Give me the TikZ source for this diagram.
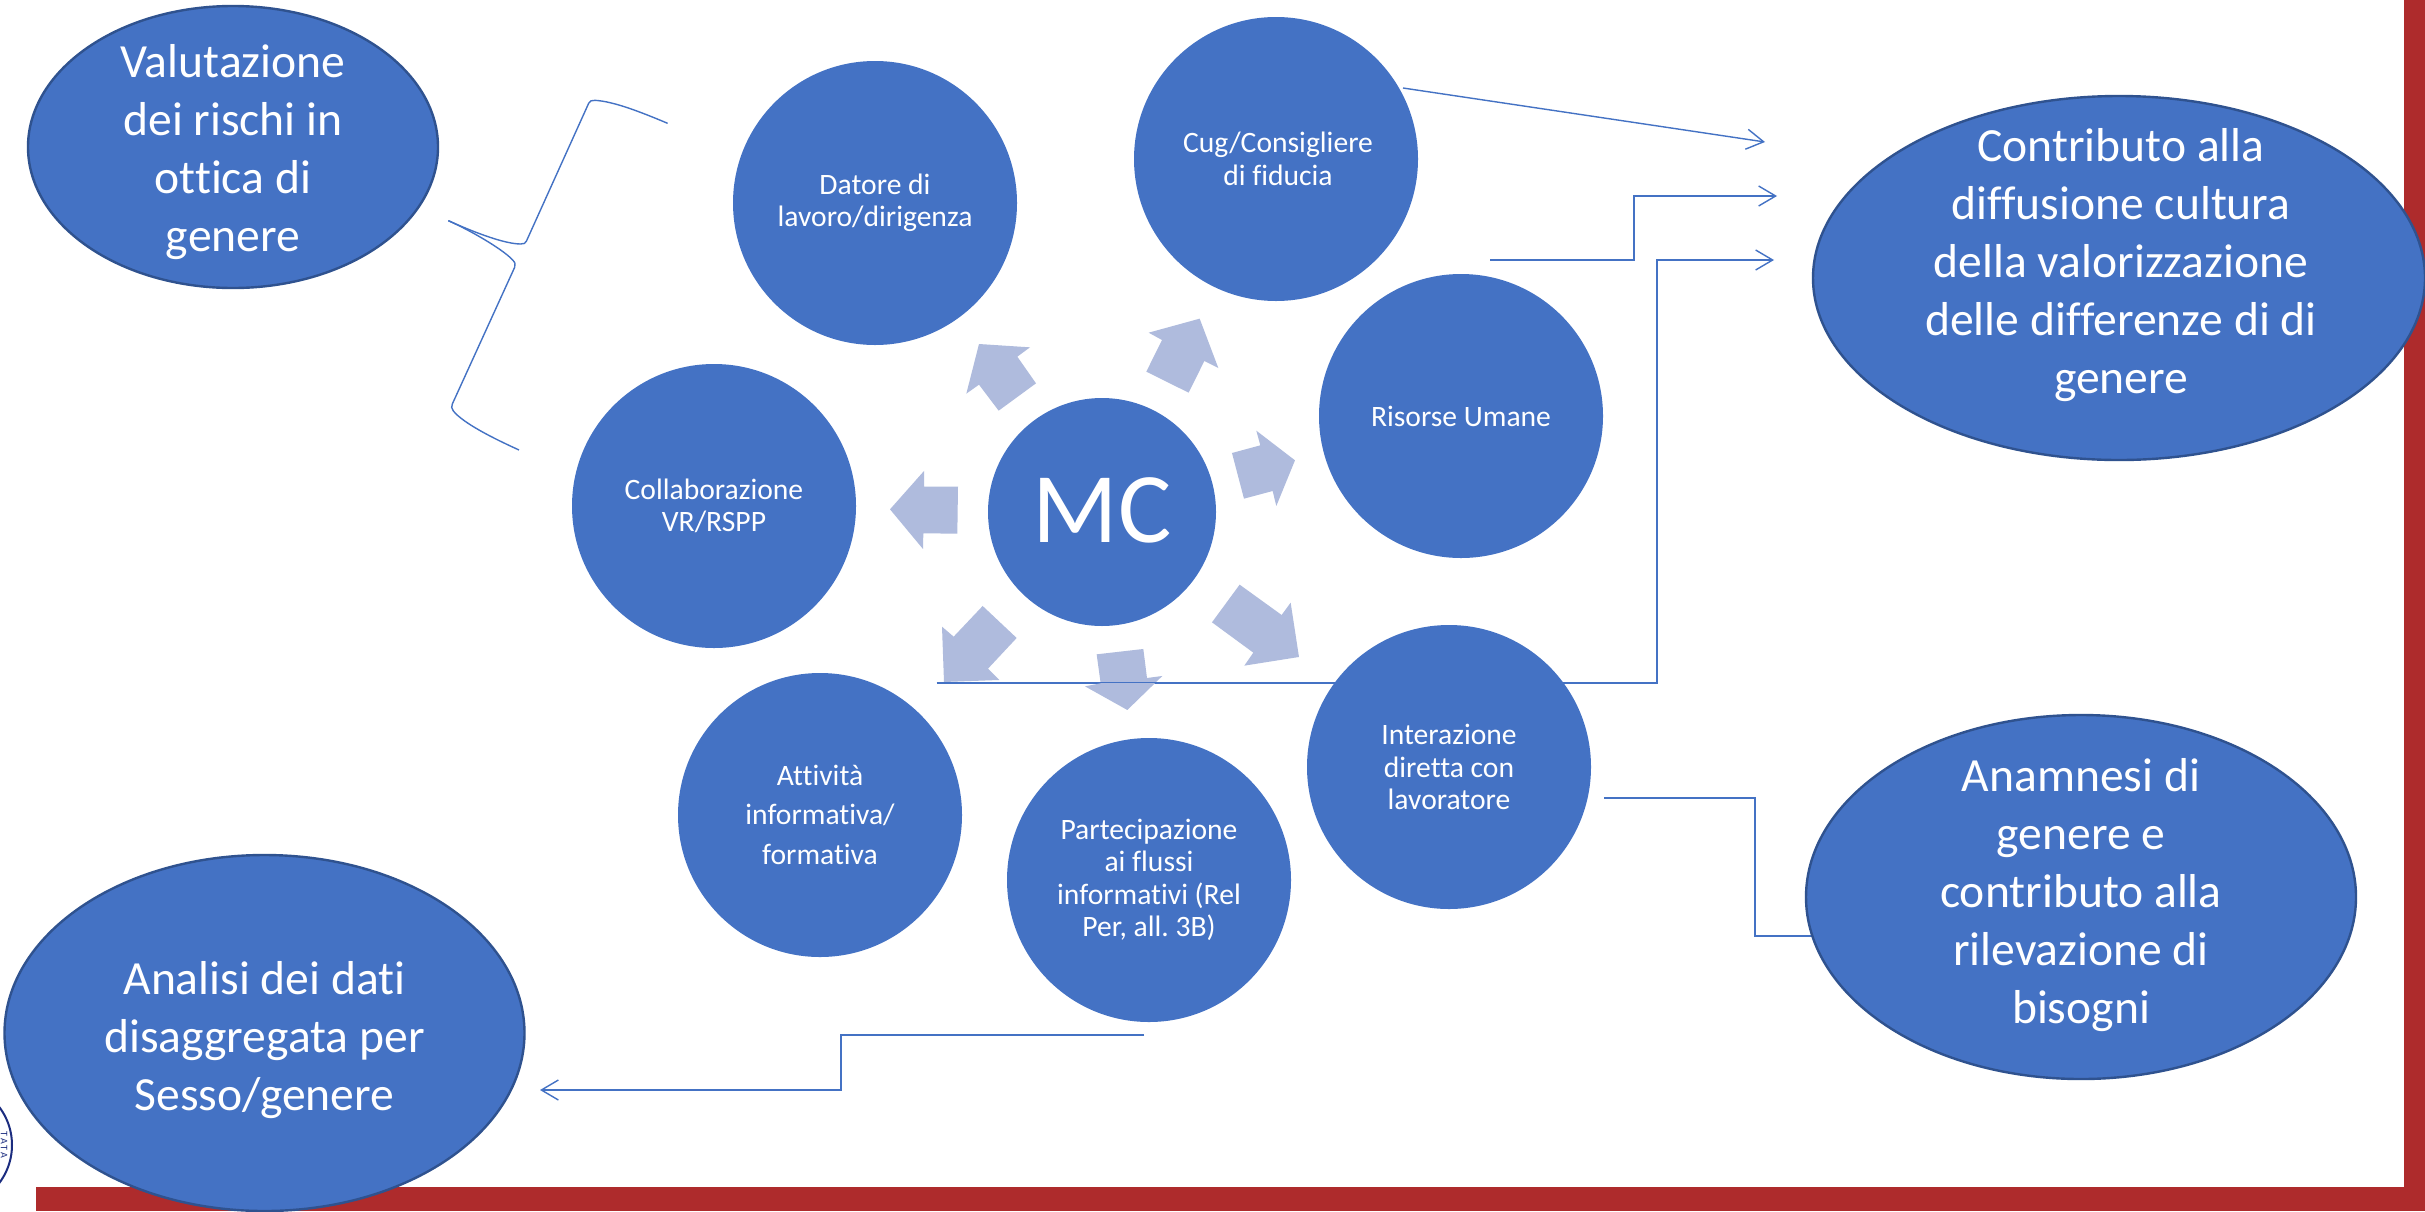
\documentclass[tikz,border=0pt]{standalone}
\usepackage{fontspec}
\setmainfont{Carlito}[Ligatures=NoCommon]
\usetikzlibrary{arrows.meta,shapes.geometric}
\definecolor{blu}{HTML}{4472C4}
\definecolor{blub}{HTML}{2F528F}
\definecolor{pale}{HTML}{AFBBDD}
\definecolor{rosso}{HTML}{AE2B2C}
\definecolor{navy}{HTML}{1B2C7F}
\tikzset{
  disc/.style={circle,fill=blu,draw=none,minimum size=284*0.5pt,inner sep=0pt,text=white,align=center,font=\fontsize{14.8}{16.2}\selectfont},
  oval/.style={fill=blu,draw=blub,line width=1.2pt,inner sep=0pt},
  ovaltext/.style={text=white,align=center,font=\fontsize{23.8}{29}\selectfont},
  link/.style={draw=blu,line width=0.7pt},
  openarrow/.style={link,-{Straight Barb[length=8.5pt,width=10pt,line width=0.7pt]}},
  pointer/.style={fill=pale,draw=none}
}
\frenchspacing
\begin{document}
\begin{tikzpicture}[x=0.5pt,y=-0.5pt]
\useasboundingbox (0,0) rectangle (2425,1211);
\fill[white] (0,0) rectangle (2425,1211);
% frame
\fill[rosso] (36,1187) rectangle (2425,1211);
\fill[rosso] (2404,0) rectangle (2425,1187);
% seal fragment
\begin{scope}
\clip (0,1090) rectangle (40,1200);
\draw[navy,line width=1pt] (-51,1145) circle[radius=63];
\node[navy,font=\fontsize{5}{5}\selectfont,rotate=-90,inner sep=0pt] (sealtext) at (4,1145) {T\,A\,T\,A};
\end{scope}
% free ends
\coordinate (c1start) at (1403,88);
\coordinate (c1end) at (1765,142);
\coordinate (c2start) at (1490,260);
\coordinate (c2end) at (1777,196);
\coordinate (c3end) at (1774,260);
\coordinate (c3start) at (937,683);
\coordinate (c4start) at (1604,798);
\coordinate (c4end) at (1815,936);
\coordinate (c5start) at (1144,1035);
\coordinate (c5end) at (540,1090);
% connector drawn under the discs
\draw[openarrow] (c3start) -- (1657,683) -- (1657,260) -- (c3end);
% pointers
\begin{scope}[shift={(850,300)},x=0.5pt/3,y=-0.5pt/3]
\fill[pointer] (387,132)--(540,142)--(502,170)--(558,250)--(446,332)--(387,254)--(349,281)--cycle;
\fill[pointer] (1049,56)--(1105,204)--(1063,183)--(1016,278)--(889,215)--(936,120)--(896,98)--cycle;
\fill[pointer] (1219,392)--(1335,481)--(1279,618)--(1268,573)--(1182,596)--(1146,459)--(1231,436)--cycle;
\fill[pointer] (120,628)--(222,513)--(222,560)--(324,560)--(322,701)--(220,700)--(219,747)--cycle;
\fill[pointer] (276,980)--(311,1010)--(398,918)--(500,1014)--(414,1106)--(448,1140)--(282,1146)--cycle;
\fill[pointer] (832,1230)--(705,1159)--(752,1150)--(740,1063)--(880,1047)--(891,1134)--(937,1128)--cycle;
\fill[pointer] (1347,1071)--(1183,1097)--(1210,1058)--(1086,967)--(1169,854)--(1295,945)--(1322,908)--cycle;
\draw[link] (260,1148) -- (1500,1148);
\end{scope}
% discs
\node[disc] (datore) at (875,203) {\raisebox{-2pt}{Datore di}\\\raisebox{-2pt}{lavoro/dirigenza}};
\node[disc] (cug) at (1276,159) {\hspace{2pt}Cug/Consigliere\\\hspace{2pt}di fiducia};
\node[disc] (risorse) at (1461,416) {Risorse Umane};
\node[disc,minimum size=228*0.5pt,font=\fontsize{50}{60}\selectfont] (mc) at (1102,512) {\raisebox{1.5pt}{MC}};
\node[disc] (collab) at (714,506) {Collaborazione\\VR/RSPP};
\node[disc] (attivita) at (820,815) {\raisebox{3pt}{Attività}\\informativa/\\[4pt]formativa};
\node[disc] (parte) at (1149,880) {Partecipazione\\ai flussi\\informativi (Rel\\Per, all. 3B)};
\node[disc] (inter) at (1449,767) {Interazione\\diretta con\\lavoratore};
% connectors from the discs
\draw[openarrow] (c1start) -- (c1end);
\draw[openarrow] (c2start) -- (1634,260) -- (1634,196) -- (c2end);
\draw[link] (c4start) -- (1755,798) -- (1755,936) -- (c4end);
\draw[openarrow] (c5start) -- (841,1035) -- (841,1090) -- (c5end);
% ovals
\node[oval,ellipse,minimum width=410*0.5pt,minimum height=282*0.5pt] (valut) at (233,147) {};
\node[ovaltext] (valuttext) at (233,152) {Valutazione\\dei rischi in\\ottica di\\genere};
\node[oval,ellipse,minimum width=612*0.5pt,minimum height=364*0.5pt] (contrib) at (2119,278) {};
\node[ovaltext] (contribtext) at (2121,265) {Contributo alla\\diffusione cultura\\della valorizzazione\\delle differenze di di\\genere};
\node[oval,ellipse,minimum width=550*0.5pt,minimum height=364*0.5pt] (anam) at (2081,897) {};
\node[ovaltext] (anamtext) at (2081,895) {Anamnesi di\\genere e\\contributo alla\\rilevazione di\\bisogni};
\node[oval,ellipse,minimum width=520*0.5pt,minimum height=356*0.5pt] (analisi) at (264.5,1033) {};
\node[ovaltext] (analisitext) at (264.5,1040) {Analisi dei dati\\disaggregata per\\Sesso/genere};
% brace
\begin{scope}[shift={(400,60)},x=0.5pt/3,y=-0.5pt/3]
\draw[link] (145,482) .. controls (240,525) and (320,552) .. (362,552) .. controls (372,552) and (376,550) .. (379,544) -- (566,130) .. controls (570,122) and (575,121) .. (585,121) .. controls (640,124) and (720,155) .. (803,190);
\draw[link] (145,482) .. controls (230,520) and (335,585) .. (345,610) .. controls (347,615) and (346,618) .. (344,622) -- (157,1032) .. controls (154,1040) and (154,1045) .. (160,1053) .. controls (190,1090) and (280,1135) .. (357,1170);
\end{scope}
\end{tikzpicture}
\end{document}
